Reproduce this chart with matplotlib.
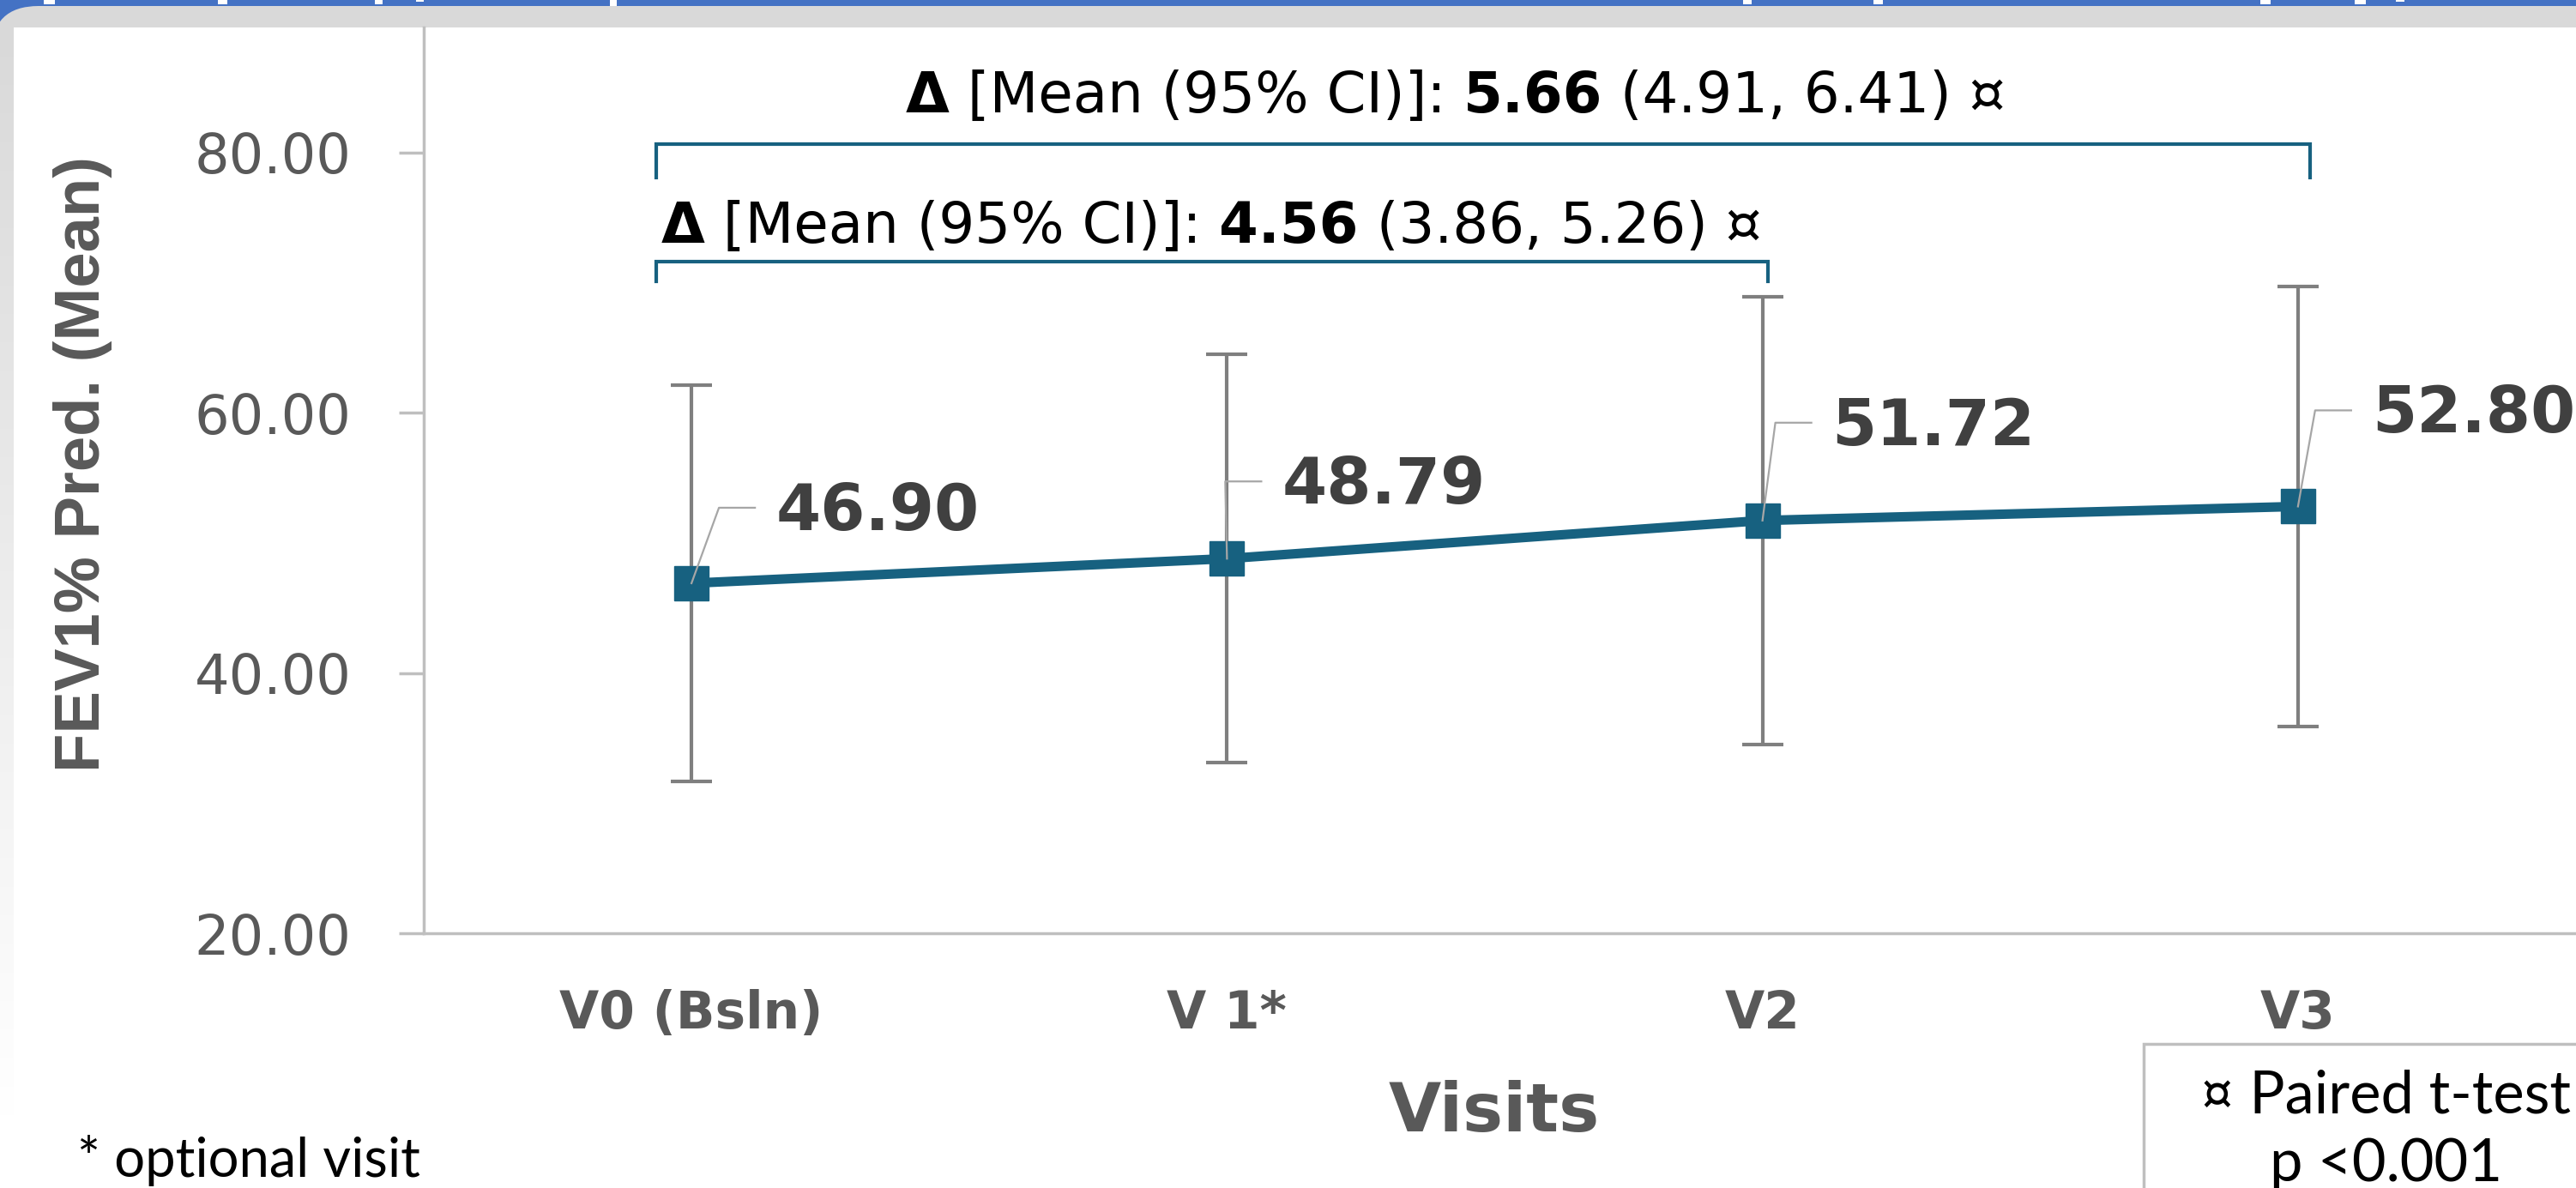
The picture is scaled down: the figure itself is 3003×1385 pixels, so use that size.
import numpy as np
import matplotlib
matplotlib.use('Agg')
import matplotlib.pyplot as plt
from matplotlib import font_manager
from matplotlib.patches import FancyBboxPatch, Rectangle

# data
visits = ['V0 (Bsln)', 'V 1*', 'V2', 'V3']
fev1_mean = [46.90, 48.79, 51.72, 52.80]
fev1_sd = [15.2, 15.7, 17.2, 16.9]
y_ticks = [20, 40, 60, 80]

delta_v3 = ['5.66', '4.91', '6.41']   # V0 -> V3, mean (95% CI)
delta_v2 = ['4.56', '3.86', '5.26']   # V0 -> V2, mean (95% CI)

W, H, DPI = 3003, 1385, 100
LINE = '#176180'
GREY_TXT = '#595959'

installed = {f.name for f in font_manager.fontManager.ttflist}


def pick(*names):
    for n in names:
        if n in installed:
            return n
    return 'DejaVu Sans'


NARROW = pick('Liberation Sans Narrow', 'Liberation Sans')
BODY = pick('Lato', 'Liberation Sans')
SANS = 'DejaVu Sans'

fig = plt.figure(figsize=(W / DPI, H / DPI), dpi=DPI)
renderer = fig.canvas.get_renderer()

# background canvas in pixel units (y down)
bg = fig.add_axes([0, 0, 1, 1], zorder=-1)
bg.set_xlim(0, W)
bg.set_ylim(H, 0)
bg.axis('off')

bg.add_patch(Rectangle((0, 0), W, 60, fc='#4472C4', ec='none'))
for x0, x1, h in [(51, 64, 5), (254, 265, 5), (437, 446, 5), (485, 494, 2),
                  (711, 719, 12), (2032, 2042, 5), (2184, 2195, 5),
                  (2635, 2647, 5), (2745, 2758, 5), (2793, 2803, 2)]:
    bg.add_patch(Rectangle((x0, 0), x1 - x0, h, fc='white', ec='none', zorder=1))
bg.add_patch(FancyBboxPatch((-10, 7), W + 200, H + 200,
                            boxstyle='round,pad=0,rounding_size=55',
                            fc='#D9D9D9', ec='none', zorder=2))
# left strip fades to white
rows = np.arange(H - 32)
shade = np.clip(0.851 + (1 - 0.851) * rows / 1268, 0, 1)
grad = np.repeat(shade[:, None, None], 3, axis=2)
bg.imshow(grad, extent=(0, 16, H, 32), origin='upper', aspect='auto', zorder=3)
bg.add_patch(Rectangle((16, 32), W, H, fc='white', ec='none', zorder=3))
bg.set_xlim(0, W)
bg.set_ylim(H, 0)

# main chart
ax = fig.add_axes([494 / W, 1 - 1088 / H, (W - 494) / W, (1088 - 32) / H])
ax.set_facecolor('none')
ax.set_xlim(-0.5, -0.5 + (W - 494) / 624.25)
ax.set_ylim(20, 20 + (1088 - 32) / 15.17)

x = np.arange(len(visits))
eb = ax.errorbar(x, fev1_mean, yerr=fev1_sd, fmt='none', ecolor='#7F7F7F',
                 elinewidth=3, capsize=17, capthick=3, zorder=2)
for cap in eb.lines[1]:
    cap.set_color('#595959')
ax.plot(x, fev1_mean, color=LINE, lw=8, marker='s', ms=29, zorder=3)

for s in ['top', 'right']:
    ax.spines[s].set_visible(False)
for s in ['left', 'bottom']:
    ax.spines[s].set_color('#BFBFBF')
    ax.spines[s].set_linewidth(2.5)

ax.set_yticks(y_ticks)
ax.set_yticklabels(['{:.2f}'.format(v) for v in y_ticks], family=SANS)
ax.tick_params(axis='y', length=21, width=2.5, color='#BFBFBF', pad=40,
               labelsize=46, labelcolor=GREY_TXT)
ax.set_xticks(x)
ax.set_xticklabels(visits, fontweight='bold', family=SANS)
ax.tick_params(axis='x', length=0, pad=47, labelsize=43, labelcolor=GREY_TXT)

# data labels with leader lines (offsets in pixels)
label_off = [(98, 88), (64, 90), (81, 114), (86, 112)]
for i, (m, (dx, dy)) in enumerate(zip(fev1_mean, label_off)):
    px, py = ax.transData.transform((i, m))
    pts = np.array([[px, py], [px + dx - 66, py + dy], [px + dx - 24, py + dy]])
    d = ax.transData.inverted().transform(pts)
    ax.plot(d[:, 0], d[:, 1], color='#A6A6A6', lw=1.6, zorder=4, clip_on=False)
    ax.annotate('{:.2f}'.format(m), (i, m), xytext=(dx, dy - 26),
                textcoords='offset pixels', ha='left', va='baseline',
                fontsize=54, fontweight='bold', color='#404040', family=SANS,
                zorder=5)


def bracket(x0, x1, ytop, ybot):
    ax.plot([x0, x0, x1, x1], [ybot, ytop, ytop, ybot], color=LINE, lw=3,
            clip_on=False, solid_joinstyle='miter', zorder=4)


bracket(-0.066, 3.022, 80.65, 78.1)
bracket(-0.066, 2.01, 71.62, 70.1)


def text_w(s, **kw):
    t = fig.text(0, 0, s + '|', **kw)
    w1 = t.get_window_extent(renderer).width
    t.set_text('|')
    w0 = t.get_window_extent(renderer).width
    t.remove()
    return w1 - w0


def fit_size(runs, target, family):
    total = sum(text_w(s, size=40, weight=w, family=family) for s, w in runs)
    return 40 * target / total


def put_runs(runs, x_left, baseline, size, family, color='black'):
    xx = x_left
    for s, w in runs:
        bg.text(xx, baseline, s, ha='left', va='baseline', size=size,
                weight=w, family=family, color=color, zorder=5)
        xx += text_w(s, size=size, weight=w, family=family)


def delta_runs(vals):
    return [('Δ', 'bold'), (' [Mean (95% CI)]: ', 'normal'), (vals[0], 'bold'),
            (' ({}, {}) ¤'.format(vals[1], vals[2]), 'normal')]


runs1 = delta_runs(delta_v3)
runs2 = delta_runs(delta_v2)
dsize = fit_size(runs2, 1280, SANS)
w1 = sum(text_w(s, size=dsize, weight=w, family=SANS) for s, w in runs1)
put_runs(runs1, 1697 - w1 / 2, 131, dsize, SANS)
put_runs(runs2, 771, 283, dsize, SANS)

# axis titles
ysize = fit_size([('FEV1% Pred. (Mean)', 'bold')], 718, NARROW)
bg.text(116, 541, 'FEV1% Pred. (Mean)', rotation=90, rotation_mode='anchor',
        ha='center', va='baseline', size=ysize, weight='bold', family=NARROW,
        color=GREY_TXT, zorder=5)
bg.text(1742, 1319, 'Visits', ha='center', va='baseline', size=57,
        weight='bold', family=SANS, color=GREY_TXT, zorder=5)

# footnote and test box
fam = [BODY, 'DejaVu Sans']
nsize = fit_size([('* optional visit', 'normal')], 400, BODY)
bg.text(90, 1372, '* optional visit', ha='left', va='baseline', size=nsize,
        family=fam, color='black', zorder=5)
bg.add_patch(Rectangle((2499, 1217), 700, 400, fc='white', ec='#BFBFBF',
                       lw=2.5, zorder=4))
bsize = fit_size([('¤ Paired t-test', 'normal')], 432, BODY)
bg.text(2781, 1297, '¤ Paired t-test', ha='center', va='baseline', size=bsize,
        family=fam, color='black', zorder=5)
bg.text(2782, 1377, 'p <0.001', ha='center', va='baseline', size=bsize,
        family=fam, color='black', zorder=5)

fig.savefig('out.png', dpi=DPI)
